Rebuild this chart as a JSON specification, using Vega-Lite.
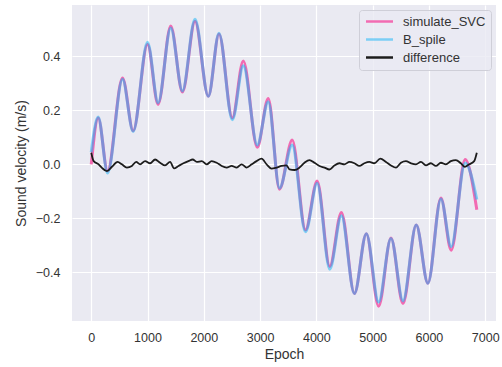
{
  "$schema": "https://vega.github.io/schema/vega-lite/v6.json",
  "width": 424,
  "height": 316,
  "autosize": {"type": "none"},
  "padding": {"left": 72, "top": 5, "right": 6, "bottom": 46},
  "datasets": {
    "svc": [
      {"epoch": 0, "v": 0.0}, {"epoch": 124, "v": 0.172}, {"epoch": 290, "v": -0.025},
      {"epoch": 556, "v": 0.32}, {"epoch": 745, "v": 0.124}, {"epoch": 1000, "v": 0.445},
      {"epoch": 1188, "v": 0.222}, {"epoch": 1413, "v": 0.512}, {"epoch": 1620, "v": 0.268},
      {"epoch": 1844, "v": 0.53}, {"epoch": 2080, "v": 0.252}, {"epoch": 2270, "v": 0.483},
      {"epoch": 2507, "v": 0.172}, {"epoch": 2702, "v": 0.383}, {"epoch": 2950, "v": 0.063},
      {"epoch": 3145, "v": 0.244}, {"epoch": 3345, "v": -0.092}, {"epoch": 3571, "v": 0.09},
      {"epoch": 3807, "v": -0.243}, {"epoch": 4014, "v": -0.062}, {"epoch": 4238, "v": -0.378},
      {"epoch": 4445, "v": -0.178}, {"epoch": 4676, "v": -0.478}, {"epoch": 4888, "v": -0.257},
      {"epoch": 5106, "v": -0.525}, {"epoch": 5326, "v": -0.273}, {"epoch": 5539, "v": -0.515},
      {"epoch": 5775, "v": -0.225}, {"epoch": 5982, "v": -0.44}, {"epoch": 6213, "v": -0.125},
      {"epoch": 6395, "v": -0.318}, {"epoch": 6644, "v": 0.018}, {"epoch": 6851, "v": -0.168}
    ],
    "spline": [
      {"epoch": 0, "v": 0.045}, {"epoch": 124, "v": 0.175}, {"epoch": 290, "v": -0.032},
      {"epoch": 556, "v": 0.315}, {"epoch": 745, "v": 0.122}, {"epoch": 1000, "v": 0.452},
      {"epoch": 1188, "v": 0.228}, {"epoch": 1413, "v": 0.505}, {"epoch": 1620, "v": 0.272},
      {"epoch": 1844, "v": 0.537}, {"epoch": 2080, "v": 0.252}, {"epoch": 2270, "v": 0.485},
      {"epoch": 2507, "v": 0.165}, {"epoch": 2702, "v": 0.365}, {"epoch": 2950, "v": 0.072},
      {"epoch": 3145, "v": 0.232}, {"epoch": 3345, "v": -0.088}, {"epoch": 3571, "v": 0.072},
      {"epoch": 3807, "v": -0.25}, {"epoch": 4014, "v": -0.07}, {"epoch": 4238, "v": -0.388},
      {"epoch": 4445, "v": -0.19}, {"epoch": 4676, "v": -0.478}, {"epoch": 4888, "v": -0.257},
      {"epoch": 5106, "v": -0.51}, {"epoch": 5326, "v": -0.275}, {"epoch": 5539, "v": -0.505},
      {"epoch": 5775, "v": -0.225}, {"epoch": 5982, "v": -0.44}, {"epoch": 6213, "v": -0.128},
      {"epoch": 6395, "v": -0.305}, {"epoch": 6644, "v": 0.005}, {"epoch": 6851, "v": -0.13}
    ],
    "diff": [
      {"epoch": 0, "v": 0.043}, {"epoch": 43, "v": 0.012}, {"epoch": 131, "v": 0},
      {"epoch": 190, "v": -0.013}, {"epoch": 278, "v": -0.025}, {"epoch": 367, "v": -0.009},
      {"epoch": 468, "v": 0.009}, {"epoch": 544, "v": 0}, {"epoch": 633, "v": -0.012},
      {"epoch": 722, "v": -0.006}, {"epoch": 798, "v": 0.009}, {"epoch": 869, "v": 0},
      {"epoch": 957, "v": 0.012}, {"epoch": 1046, "v": 0.004}, {"epoch": 1135, "v": 0.018},
      {"epoch": 1223, "v": 0.006}, {"epoch": 1312, "v": -0.004}, {"epoch": 1401, "v": 0.009},
      {"epoch": 1472, "v": -0.015}, {"epoch": 1550, "v": -0.006}, {"epoch": 1638, "v": 0.004},
      {"epoch": 1727, "v": 0.012}, {"epoch": 1803, "v": 0.018}, {"epoch": 1874, "v": 0.009},
      {"epoch": 1963, "v": 0.012}, {"epoch": 2051, "v": 0}, {"epoch": 2140, "v": 0.012},
      {"epoch": 2229, "v": 0.006}, {"epoch": 2318, "v": -0.006}, {"epoch": 2406, "v": -0.012},
      {"epoch": 2495, "v": -0.006}, {"epoch": 2584, "v": -0.012}, {"epoch": 2672, "v": 0},
      {"epoch": 2761, "v": -0.012}, {"epoch": 2850, "v": 0}, {"epoch": 2938, "v": 0.012},
      {"epoch": 3027, "v": 0.021}, {"epoch": 3116, "v": 0}, {"epoch": 3204, "v": -0.016},
      {"epoch": 3293, "v": -0.012}, {"epoch": 3382, "v": -0.006}, {"epoch": 3470, "v": -0.004},
      {"epoch": 3523, "v": -0.019}, {"epoch": 3612, "v": -0.021}, {"epoch": 3700, "v": -0.012},
      {"epoch": 3789, "v": 0.006}, {"epoch": 3878, "v": 0.016}, {"epoch": 3966, "v": 0.006},
      {"epoch": 4055, "v": -0.006}, {"epoch": 4144, "v": -0.012}, {"epoch": 4232, "v": -0.019},
      {"epoch": 4321, "v": -0.004}, {"epoch": 4410, "v": 0.004}, {"epoch": 4498, "v": 0},
      {"epoch": 4587, "v": 0.009}, {"epoch": 4676, "v": 0.004}, {"epoch": 4764, "v": -0.006},
      {"epoch": 4853, "v": 0.004}, {"epoch": 4942, "v": 0.009}, {"epoch": 5030, "v": 0.004},
      {"epoch": 5136, "v": 0.021}, {"epoch": 5237, "v": 0.009}, {"epoch": 5326, "v": -0.004},
      {"epoch": 5415, "v": -0.012}, {"epoch": 5503, "v": 0.006}, {"epoch": 5592, "v": 0.012},
      {"epoch": 5681, "v": 0.004}, {"epoch": 5769, "v": 0}, {"epoch": 5858, "v": 0.009},
      {"epoch": 5947, "v": -0.004}, {"epoch": 6035, "v": 0.004}, {"epoch": 6124, "v": -0.006},
      {"epoch": 6213, "v": 0.006}, {"epoch": 6301, "v": 0}, {"epoch": 6390, "v": 0.012},
      {"epoch": 6478, "v": 0.016}, {"epoch": 6567, "v": 0.004}, {"epoch": 6638, "v": -0.009},
      {"epoch": 6715, "v": 0}, {"epoch": 6804, "v": 0.012}, {"epoch": 6851, "v": 0.043}
    ]
  },
  "encoding": {
    "x": {
      "field": "epoch", "type": "quantitative",
      "scale": {"domain": [-342, 7192], "nice": false, "zero": false},
      "axis": {"values": [0, 1000, 2000, 3000, 4000, 5000, 6000, 7000], "format": "d", "title": "Epoch", "labelPadding": 10, "titlePadding": 4}
    },
    "y": {
      "field": "v", "type": "quantitative",
      "scale": {"domain": [-0.58, 0.59], "nice": false, "zero": false},
      "axis": {"values": [-0.4, -0.2, 0, 0.2, 0.4], "format": ".1f", "title": "Sound velocity (m/s)", "labelPadding": 12, "titlePadding": 7}
    },
    "color": {
      "field": "series", "type": "nominal",
      "scale": {"domain": ["simulate_SVC", "B_spile", "difference"], "range": ["#F26BB2", "#10B4F8", "#1C1C1C"]},
      "legend": {
        "title": null,
        "orient": "none",
        "legendX": 287,
        "legendY": 5,
        "symbolType": "M-1,0H5",
        "symbolSize": 81,
        "symbolStrokeWidth": 2.5,
        "labelFont": "Liberation Sans",
        "labelFontSize": 13,
        "labelColor": "#333333",
        "labelOffset": 26,
        "rowPadding": 4,
        "padding": 5,
        "fillColor": "rgba(234,234,242,0.8)",
        "strokeColor": "#CFCFD8",
        "cornerRadius": 3,
        "encode": {"symbols": {"update": {"opacity": {"signal": "datum.value === 'B_spile' ? 0.5 : 1"}}}}
      }
    }
  },
  "layer": [
    {
      "data": {"name": "svc"},
      "transform": [{"calculate": "'simulate_SVC'", "as": "series"}],
      "mark": {"type": "line", "interpolate": "monotone", "strokeWidth": 3}
    },
    {
      "data": {"name": "spline"},
      "transform": [{"calculate": "'B_spile'", "as": "series"}],
      "mark": {"type": "line", "interpolate": "monotone", "strokeWidth": 3, "opacity": 0.5}
    },
    {
      "data": {"name": "diff"},
      "transform": [{"calculate": "'difference'", "as": "series"}],
      "mark": {"type": "line", "interpolate": "monotone", "strokeWidth": 1.8}
    }
  ],
  "config": {
    "view": {"fill": "#EAEAF2", "stroke": null},
    "axis": {
      "grid": true, "gridColor": "#FFFFFF", "gridWidth": 1.2, "domain": false, "ticks": false,
      "labelFont": "Liberation Sans", "labelFontSize": 12.5, "labelColor": "#333333",
      "titleFont": "Liberation Sans", "titleFontSize": 14, "titleFontWeight": "normal", "titleColor": "#333333"
    }
  }
}
